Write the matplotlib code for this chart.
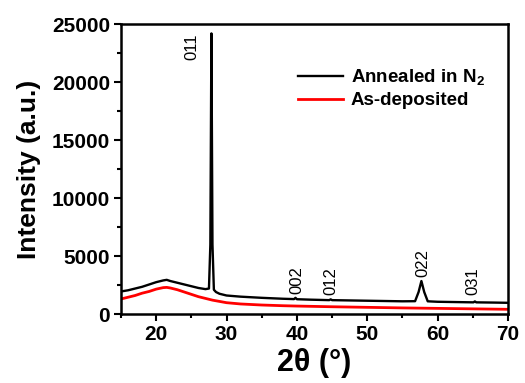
import numpy as np
import matplotlib
matplotlib.use('Agg')
import matplotlib.pyplot as plt
from matplotlib.ticker import MultipleLocator

# XRD pattern, annealed in N2 (2theta in degrees, intensity in a.u.)
ann_x = [15, 16, 17, 18, 19, 20, 21, 21.5, 22, 23, 24, 25, 26, 27, 27.5,
         27.7, 27.85, 28.0, 28.2, 28.5, 29, 30, 32, 35, 38, 39.6, 39.8, 40.0,
         42, 44.6, 44.8, 45.0, 48, 50, 52, 55, 56.8, 57.3, 57.7, 58.1, 58.6,
         60, 62, 64, 65.1, 65.3, 65.5, 68, 70]
ann_y = [1950, 2050, 2200, 2350, 2550, 2750, 2900, 2950, 2850, 2700, 2550,
         2400, 2250, 2150, 2200, 6000, 24200, 6000, 2100, 1900, 1750, 1600,
         1500, 1400, 1320, 1290, 1400, 1280, 1240, 1200, 1270, 1200, 1170,
         1150, 1130, 1100, 1110, 1900, 2850, 1900, 1100, 1060, 1040, 1020,
         1010, 1090, 1010, 990, 970]

# As-deposited film
dep_x = [15, 16, 17, 18, 19, 20, 21, 21.5, 22, 23, 24, 25, 26, 27, 28, 30,
         32, 35, 38, 40, 45, 50, 55, 60, 65, 70]
dep_y = [1300, 1450, 1600, 1800, 1950, 2150, 2280, 2300, 2250, 2100, 1900,
         1700, 1500, 1350, 1200, 980, 870, 780, 720, 690, 630, 580, 530,
         490, 450, 410]

# peak indices
peak_labels = ['011', '002', '012', '022', '031']
peak_x = [25.1, 40.0, 44.9, 57.9, 65.0]
peak_y = [21900, 1720, 1640, 3190, 1640]

plt.rcParams['font.family'] = ['Liberation Sans', 'DejaVu Sans']
plt.rcParams['mathtext.fontset'] = 'custom'
plt.rcParams['mathtext.rm'] = 'Liberation Sans:bold'
plt.rcParams['mathtext.bf'] = 'Liberation Sans:bold'

fig = plt.figure(figsize=(5.25, 3.83), dpi=100)
ax = fig.add_axes([0.2305, 0.180, 0.737, 0.757])

ax.plot(ann_x, ann_y, color='black', lw=1.7, label='Annealed in N$_2$')
ax.plot(dep_x, dep_y, color='red', lw=2.0, label='As-deposited')

for lab, px, py in zip(peak_labels, peak_x, peak_y):
    ax.text(px, py, lab, rotation=90, ha='center', va='bottom', fontsize=12)

ax.set_xlim(15, 70)
ax.set_ylim(0, 25000)
ax.xaxis.set_major_locator(MultipleLocator(10))
ax.xaxis.set_minor_locator(MultipleLocator(5))
ax.yaxis.set_major_locator(MultipleLocator(5000))
ax.yaxis.set_minor_locator(MultipleLocator(2500))
ax.tick_params(which='both', direction='out', width=1.5, top=False, right=False)
ax.tick_params(which='major', length=5, labelsize=15, pad=3)
ax.tick_params(which='minor', length=3)
for t in ax.get_xticklabels() + ax.get_yticklabels():
    t.set_fontweight('bold')
for s in ax.spines.values():
    s.set_linewidth(1.8)

ax.set_xlabel('2θ (°)', fontsize=22, fontweight='bold', labelpad=3)
ax.set_ylabel('Intensity (a.u.)', fontsize=19, fontweight='bold', labelpad=8)

leg = ax.legend(loc='upper left', bbox_to_anchor=(289 / 525, 1 - 58 / 383),
                bbox_transform=fig.transFigure, frameon=False, borderpad=0,
                handlelength=2.4, handletextpad=0.4, labelspacing=0.25,
                prop={'size': 13.5, 'weight': 'bold'})

fig.savefig('out.png', dpi=100)
